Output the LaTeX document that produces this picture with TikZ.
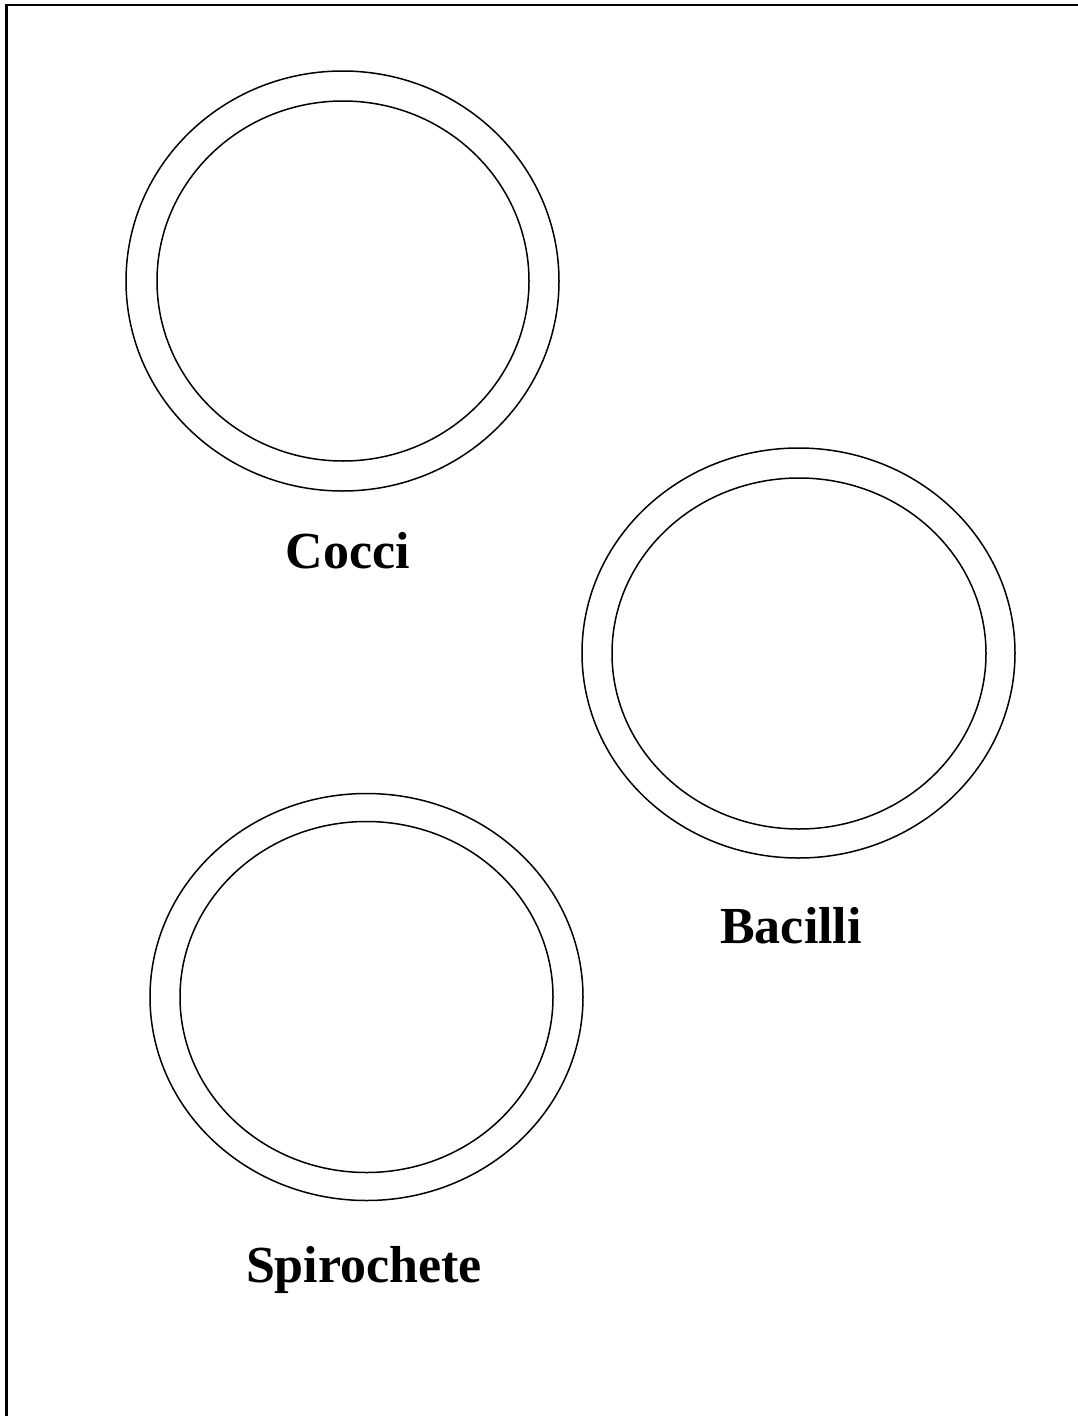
\documentclass[tikz,border=0pt]{standalone}
\usepackage{fontspec}
\setmainfont{Liberation Serif}
\begin{document}
\begin{tikzpicture}[x=1pt,y=-1pt,
  ring/.style={draw=black,line width=1.5pt},
  lbl/.style={font=\fontsize{52}{60}\selectfont\bfseries,anchor=base,inner sep=0pt}]
\useasboundingbox (0,0) rectangle (1078,1416);
\coordinate (fa) at (6.5,1416);
\coordinate (fb) at (6.5,5);
\coordinate (fc) at (1078,5);
\draw[line width=2.2pt] (fa) -- (fb) -- (fc);
% Cocci
\draw[ring] (342.5,281) ellipse [x radius=216.5,y radius=210];
\draw[ring] (343,281) ellipse [x radius=186,y radius=180];
\node[lbl] (cocci) at (348,568) {Cocci};
% Bacilli
\draw[ring] (798.5,653) ellipse [x radius=216.5,y radius=205];
\draw[ring] (799,653.5) ellipse [x radius=187,y radius=175.5];
\node[lbl] (bacilli) at (791,943) {Bacilli};
% Spirochete
\draw[ring] (366.5,997) ellipse [x radius=216.5,y radius=203.5];
\draw[ring] (366.5,997) ellipse [x radius=186.5,y radius=175.5];
\node[lbl] (spiro) at (364,1282) {Spirochete};
\end{tikzpicture}
\end{document}
